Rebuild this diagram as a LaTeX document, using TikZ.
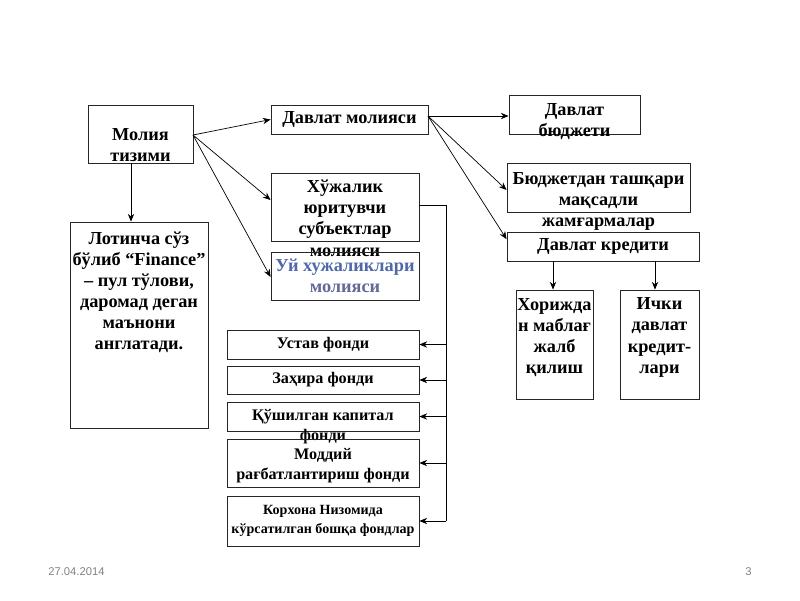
\documentclass[tikz,border=0pt]{standalone}
\usepackage{fontspec}
\setmainfont{Liberation Serif}
\newfontfamily\footfont{Liberation Sans}
\usetikzlibrary{arrows.meta}

\definecolor{uyblue}{RGB}{78,104,170}
\definecolor{uygrey}{RGB}{100,104,150}
\definecolor{footgrey}{RGB}{130,130,130}

\tikzset{
  box/.style={draw=black!85, line width=0.6pt, rectangle, inner sep=0pt, align=center,
    font=\fontsize{13}{15}\selectfont\bfseries},
  fond/.style={box, minimum width=4.8cm, font=\fontsize{11.5}{14}\selectfont\bfseries},
  txt/.style={align=center, inner sep=0pt, font=\fontsize{13}{15}\selectfont\bfseries},
  arr/.style={-{Stealth[length=5.5pt,width=4.5pt]}, line width=0.5pt},
}

\begin{document}
\begin{tikzpicture}[y=-1cm]
\useasboundingbox (0,0) rectangle (20,15);

\node[box, minimum width=2.625cm, minimum height=1.45cm,
  label={[txt,name=molT,yshift=-8pt]center:{Молия\\тизими}}] (mol) at (3.5125,3.35) {};
\node[box, minimum width=3.925cm, minimum height=0.725cm] (dm) at (8.7375,2.9875) {Давлат молияси};
\node[box, minimum width=3.275cm, minimum height=0.975cm,
  label={[txt,name=budT,yshift=-5pt]center:{Давлат\\бюджети}}] (bud) at (14.3625,2.8625) {};
\node[box, minimum width=4.575cm, minimum height=1.225cm,
  label={[txt,name=btT,yshift=-10pt]center:{Бюджетдан ташқари\\мақсадли\\жамғармалар}}] (bt) at (14.9625,4.6875) {};
\node[box, minimum width=4.8cm, minimum height=0.725cm] (kr) at (15.075,6.1625) {Давлат кредити};
\node[box, minimum width=1.925cm, minimum height=2.725cm,
  label={[txt,name=horT,yshift=5pt]center:{Хорижда\\н маблағ\\жалб\\қилиш}}] (hor) at (13.8625,8.6125) {};
\node[box, minimum width=1.975cm, minimum height=2.725cm,
  label={[txt,name=ichT,yshift=5pt]center:{Ички\\давлат\\кредит-\\лари}}] (ich) at (16.4875,8.6125) {};

\node[box, minimum width=3.7cm, minimum height=1.7cm,
  label={[txt,name=hjT,yshift=-8pt]center:{Хўжалик\\юритувчи\\субъектлар\\молияси}}] (hj) at (8.625,5.175) {};
\node[box, minimum width=3.7cm, minimum height=1.2cm,
  label={[txt,name=uyT]center:{\textcolor{uyblue}{Уй хужаликлари}\\\textcolor{uygrey}{молияси}}}] (uy) at (8.625,6.9) {};

\node[box, minimum width=3.45cm, minimum height=5.15cm,
  label={[txt,name=lotT,anchor=north,yshift=-7pt]north:{Лотинча сўз\\бўлиб “Finance”\\– пул тўлови,\\даромад деган\\маънони\\англатади.}}] (lot) at (3.475,8.125) {};

\node[fond, minimum height=0.725cm] (f1) at (8.075,8.6125) {Устав фонди};
\node[fond, minimum height=0.7cm] (f2) at (8.075,9.5) {Заҳира фонди};
\node[fond, minimum height=0.725cm,
  label={[txt,name=f3T,yshift=-7pt,font=\fontsize{11.5}{14}\selectfont\bfseries]center:{Қўшилган капитал\\фонди}}] (f3) at (8.075,10.4125) {};
\node[fond, minimum height=1.2cm,
  label={[txt,name=f4T,yshift=-2pt,font=\fontsize{11.5}{14}\selectfont\bfseries]center:{Моддий\\рағбатлантириш фонди}}] (f4) at (8.075,11.575) {};
\node[fond, minimum height=1.25cm, font=\fontsize{10}{13.5}\selectfont\bfseries] (f5) at (8.075,13.025) {Корхона Низомида\\кўрсатилган бошқа фондлар};

% arrows from the main box
\coordinate (molE) at (4.825,3.375);
\draw[arr] (molE) -- (dm.west);
\draw[arr] (molE) -- (hj.west |- 0,5.0);
\draw[arr] (molE) -- (uy.west |- 0,6.925);
\coordinate (molS) at (3.275,4.075);
\draw[arr] (molS) -- (molS |- lot.north);

% state finance
\coordinate (dmE) at (10.7,2.9);
\draw[arr] (dmE) -- (bud.west |- dmE);
\draw[arr] (dmE) -- (bt.west |- 0,4.75);
\draw[arr] (dmE) -- (kr.west |- 0,5.98);
\draw[arr] (kr.south -| 13.825,0) -- (hor.north -| 13.825,0);
\draw[arr] (kr.south -| 16.375,0) -- (ich.north -| 16.375,0);

% funds
\coordinate (hjE) at (10.475,5.125);
\coordinate (bus) at (11.15,5.125);
\draw[line width=0.5pt] (hjE) -- (bus) -- (bus |- f5.east);
\foreach \f in {f1,f2,f3,f4,f5}
  \draw[arr] (bus |- \f.east) -- (\f.east);

% footer
\node[font=\footfont\fontsize{8}{9}\selectfont, text=footgrey, anchor=west, inner sep=0pt] (date) at (1.2,14.3) {27.04.2014};
\node[font=\footfont\fontsize{8}{9}\selectfont, text=footgrey, anchor=east, inner sep=0pt] (page) at (18.8,14.3) {3};
\end{tikzpicture}
\end{document}
